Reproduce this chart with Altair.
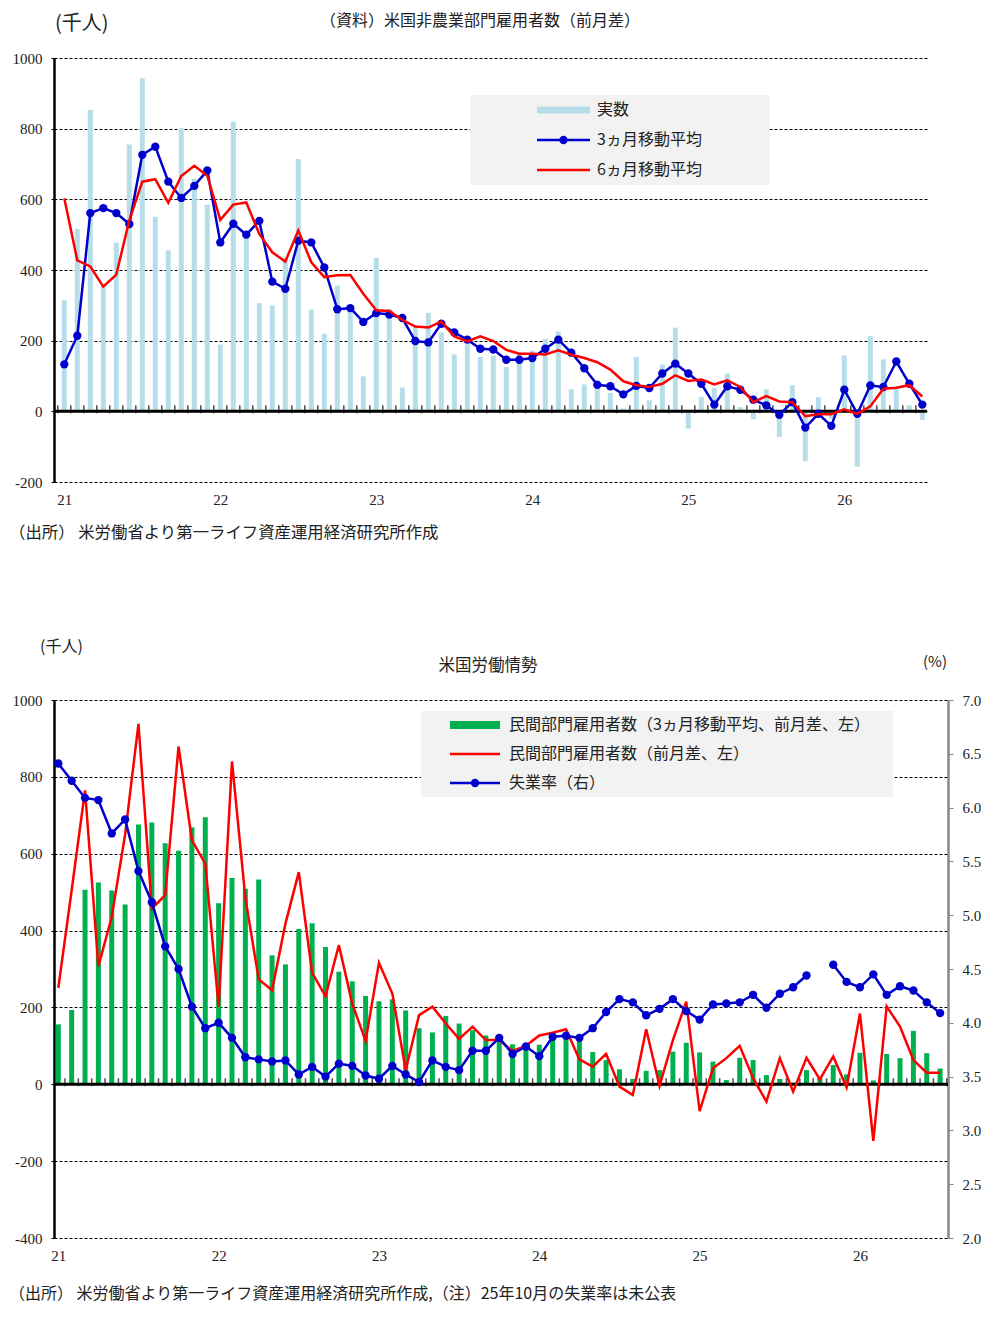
import altair as alt
import pandas as pd

# ---------------- data ----------------
months = list(range(67))
year_ticks = [0, 12, 24, 36, 48, 60]
year_labels = ["21", "22", "23", "24", "25", "26"]

nfp_actual = [314, 516, 853, 356, 478, 755, 943, 551, 456, 801,
              658, 585, 189, 820, 491, 306, 300, 435, 714, 288,
              220, 356, 300, 99, 434, 290, 67, 240, 279, 223,
              161, 212, 154, 158, 125, 163, 172, 205, 226, 62,
              76, 88, 52, 8, 154, 31, 133, 237, -49, 41,
              66, 107, 12, -22, 62, -73, 74, -141, 40, -22,
              158, -157, 213, 147, 64, 17, -24]
nfp_ma3 = [133, 214, 561, 575, 561, 530, 726, 749, 650, 604,
           638, 682, 478, 531, 500, 539, 367, 347, 483, 478,
           407, 289, 292, 253, 278, 274, 264, 199, 195, 248,
           223, 203, 177, 175, 146, 146, 151, 177, 203, 166,
           122, 75, 71, 48, 72, 66, 107, 135, 107, 78,
           19, 71, 61, 33, 17, -10, 26, -46, -7, -41,
           61, -7, 73, 69, 141, 78, 19]
nfp_ma6 = [603, 427, 410, 353, 387, 540, 650, 657, 590, 666,
           695, 667, 542, 585, 591, 502, 450, 424, 512, 422,
           380, 385, 386, 333, 286, 284, 259, 240, 237, 254,
           212, 198, 212, 199, 174, 163, 163, 161, 173, 160,
           151, 139, 118, 85, 74, 69, 78, 102, 86, 90,
           76, 88, 69, 26, 43, 28, 26, -14, -8, -8,
           6, -7, 14, 64, 67, 74, 42]

priv_ma3 = [156, 193, 506, 525, 504, 468, 676, 681, 627, 608,
            669, 695, 471, 537, 509, 533, 336, 312, 404, 419,
            357, 293, 268, 230, 216, 221, 192, 146, 135, 178,
            158, 141, 127, 125, 104, 102, 103, 124, 132, 119,
            84, 63, 39, 14, 35, 37, 85, 108, 83, 59,
            11, 69, 63, 24, 14, 4, 37, 18, 50, 26,
            82, 10, 79, 68, 139, 81, 41]
priv_mom = [251, 505, 765, 307, 436, 650, 938, 457, 492, 879,
            635, 574, 202, 840, 485, 273, 245, 418, 552, 290,
            229, 362, 210, 113, 316, 236, 37, 180, 202, 158,
            118, 150, 115, 115, 87, 100, 127, 134, 143, 65,
            46, 79, -6, -28, 143, -4, 115, 215, -70, 42,
            68, 100, 16, -45, 68, -19, 69, 13, 72, -8,
            184, -147, 203, 150, 63, 30, 30]
unemp = [6.41, 6.25, 6.09, 6.07, 5.76, 5.89, 5.41, 5.12, 4.71, 4.50,
         4.15, 3.95, 4.00, 3.86, 3.68, 3.66, 3.64, 3.65, 3.52, 3.59,
         3.50, 3.62, 3.60, 3.51, 3.48, 3.60, 3.52, 3.45, 3.65, 3.59,
         3.56, 3.74, 3.74, 3.86, 3.71, 3.78, 3.69, 3.87, 3.88, 3.86,
         3.95, 4.10, 4.22, 4.19, 4.07, 4.13, 4.22, 4.11, 4.03, 4.17,
         4.18, 4.19, 4.26, 4.14, 4.27, 4.33, 4.44, None, 4.54, 4.38,
         4.33, 4.45, 4.26, 4.34, 4.30, 4.19, 4.09]

top_ticks_y = [-200, 0, 200, 400, 600, 800, 1000]
bot_ticks_y = [-400, -200, 0, 200, 400, 600, 800, 1000]
rate_ticks = [2.0, 2.5, 3.0, 3.5, 4.0, 4.5, 5.0, 5.5, 6.0, 6.5, 7.0]

top_legend = ["実数", "3ヵ月移動平均", "6ヵ月移動平均"]
bot_legend = ["民間部門雇用者数（3ヵ月移動平均、前月差、左）",
              "民間部門雇用者数（前月差、左）", "失業率（右）"]

# ---------------- style ----------------
JP = "Noto Sans CJK JP"
NUM = "Liberation Serif"
TXT = "#222222"
LB = "#b7dde8"
BLUE = "#0000cc"
RED = "#ff0000"
GREEN = "#00b050"

label_expr = " : ".join(
    f"datum.value == {v} ? '{l}'" for v, l in zip(year_ticks, year_labels)
) + " : ''"

one = pd.DataFrame({"a": [0]})

X_AXIS = alt.Axis(values=year_ticks, labelExpr=label_expr, domain=False, ticks=False,
                  grid=False, labelPadding=10, labelFont=NUM, labelFontSize=15,
                  labelColor=TXT, title=None, orient="bottom")


def y_axis_left(vals):
    return alt.Axis(values=vals, grid=True, gridDash=[3, 2], gridColor="#000000",
                    gridWidth=1, domainColor="#000000", domainWidth=2.5,
                    tickColor="#000000", tickSize=3, labelPadding=9, labelFont=NUM,
                    labelFontSize=15, labelColor=TXT, title=None,
                    labelExpr="'' + datum.value", orient="left")


def txt(x, y, s, size=16, align="left", font=JP):
    return alt.Chart(one).mark_text(align=align, baseline="middle", font=font,
                                    fontSize=size, color=TXT).encode(
        x=alt.value(x), y=alt.value(y), text=alt.value(s))


def rect(x, x2, y, y2, color):
    return alt.Chart(one).mark_rect(color=color).encode(
        x=alt.value(x), x2=alt.value(x2), y=alt.value(y), y2=alt.value(y2))


def hline(x, x2, y, color, w=2.5):
    return alt.Chart(one).mark_rule(color=color, strokeWidth=w).encode(
        x=alt.value(x), x2=alt.value(x2), y=alt.value(y))


def dot(x, y, color):
    return alt.Chart(one).mark_point(filled=True, color=color, size=70, opacity=1).encode(
        x=alt.value(x), y=alt.value(y))


# ---------------- top chart ----------------
TW, TH = 873, 424
xs_top = alt.Scale(domain=[-0.792, 66.36], nice=False, zero=False, padding=0)
ys_top = alt.Scale(domain=[-200, 1000], nice=False, zero=False, padding=0)
YA_TOP = y_axis_left(top_ticks_y)

top_df = pd.DataFrame({"m": months, "actual": nfp_actual, "ma3": nfp_ma3, "ma6": nfp_ma6})
tick_top = pd.DataFrame({"t": [i - 0.5 for i in range(67)]})
tick_top = tick_top[tick_top.t > -0.79]

TX = lambda f: alt.X(f, scale=xs_top, axis=X_AXIS)
TY = lambda f: alt.Y(f, scale=ys_top, axis=YA_TOP)

t_bars = alt.Chart(top_df).mark_bar(size=5, color=LB).encode(x=TX("m:Q"), y=TY("actual:Q"))
t_zero = alt.Chart(one).mark_rule(color="#000000", strokeWidth=3).encode(
    y=alt.Y(datum=0, scale=ys_top, axis=YA_TOP))
t_ticks = alt.Chart(tick_top).mark_tick(orient="vertical", color="#000000", thickness=1.5,
                                        size=8, yOffset=-2).encode(
    x=TX("t:Q"), y=alt.Y(datum=0, scale=ys_top, axis=YA_TOP))
t_ma3 = alt.Chart(top_df).mark_line(
    color=BLUE, strokeWidth=2.5,
    point=alt.OverlayMarkDef(filled=True, fill=BLUE, color=BLUE, size=70)).encode(
    x=TX("m:Q"), y=TY("ma3:Q"))
t_ma6 = alt.Chart(top_df).mark_line(color=RED, strokeWidth=2.5).encode(
    x=TX("m:Q"), y=TY("ma6:Q"))

anchor = alt.Chart(one).mark_rule(color="white", strokeWidth=1).encode(
    x=alt.value(-45.5), y=alt.value(-49.5), y2=alt.value(-45))

top_deco = [
    anchor,
    txt(1, -34, "(千人)", size=20),
    txt(426, -37, "（資料）米国非農業部門雇用者数（前月差）", size=16, align="center"),
    txt(-45, 475, "（出所） 米労働省より第一ライフ資産運用経済研究所作成", size=16.4),
    rect(416, 716, 37, 127, "#f2f2f2"),
    rect(483, 536, 48.5, 55.5, LB),
    hline(483, 536, 82, BLUE),
    dot(509.5, 82, BLUE),
    hline(483, 536, 112, RED),
    txt(543, 52, top_legend[0]),
    txt(543, 82, top_legend[1]),
    txt(543, 112, top_legend[2]),
]

top = alt.layer(t_bars, t_zero, t_ticks, t_ma3, t_ma6, *top_deco).properties(width=TW, height=TH)

# ---------------- bottom chart ----------------
BW, BH = 894, 538
xs_bot = alt.Scale(domain=[-0.322, 66.59], nice=False, zero=False, padding=0)
ys_bot = alt.Scale(domain=[-400, 1000], nice=False, zero=False, padding=0)
ys_rate = alt.Scale(domain=[2.0, 7.0], nice=False, zero=False, padding=0)
YA_BOT = y_axis_left(bot_ticks_y)

seg = []
s = 0
for v in unemp:
    if v is None:
        s += 1
    seg.append(s)
bot_df = pd.DataFrame({"m": months, "ma3": priv_ma3, "mom": priv_mom, "rate": unemp, "seg": seg})
rate_df = bot_df[bot_df["rate"].notna()]
tick_bot = pd.DataFrame({"t": [i - 0.5 for i in range(68)]})
tick_bot = tick_bot[(tick_bot.t > -0.32) & (tick_bot.t < 66.59)]

BX = lambda f: alt.X(f, scale=xs_bot, axis=X_AXIS)
BY = lambda f: alt.Y(f, scale=ys_bot, axis=YA_BOT)

b_bars = alt.Chart(bot_df).mark_bar(size=5, color=GREEN).encode(x=BX("m:Q"), y=BY("ma3:Q"))
b_zero = alt.Chart(one).mark_rule(color="#000000", strokeWidth=3).encode(
    y=alt.Y(datum=0, scale=ys_bot, axis=YA_BOT))
b_ticks = alt.Chart(tick_bot).mark_tick(orient="vertical", color="#000000", thickness=1.5,
                                        size=8, yOffset=-2).encode(
    x=BX("t:Q"), y=alt.Y(datum=0, scale=ys_bot, axis=YA_BOT))
b_mom = alt.Chart(bot_df).mark_line(color=RED, strokeWidth=2.5).encode(
    x=BX("m:Q"), y=BY("mom:Q"))

bottom_anchor = alt.Chart(one).mark_rule(color="white", strokeWidth=1).encode(
    x=alt.value(-40), y=alt.value(606), y2=alt.value(612))

bot_deco = [
    bottom_anchor,
    txt(-14, -53, "(千人)", size=16),
    txt(434, -34, "米国労働情勢", size=16.5, align="center"),
    txt(881, -38, "(%)", size=15, align="center"),
    txt(-45, 594, "（出所） 米労働省より第一ライフ資産運用経済研究所作成,（注）25年10月の失業率は未公表", size=16),
    rect(367, 839, 11, 97, "#f2f2f2"),
    rect(396, 446, 21, 29, GREEN),
    hline(396, 446, 54, RED),
    hline(396, 446, 83, BLUE),
    dot(421, 83, BLUE),
    txt(455, 25, bot_legend[0]),
    txt(455, 54, bot_legend[1]),
    txt(455, 83, bot_legend[2]),
]

left_layer = alt.layer(b_bars, b_zero, b_ticks, b_mom, *bot_deco)

RATE_AXIS = alt.Axis(orient="right", values=rate_ticks, format=".1f", domainColor="#888888",
                     domainWidth=2.5, tickColor="#888888", tickSize=5, labelPadding=9,
                     grid=False, labelFont=NUM, labelFontSize=15, labelColor=TXT, title=None)
b_rate_line = alt.Chart(rate_df).mark_line(color=BLUE, strokeWidth=2.5).encode(
    x=BX("m:Q"),
    y=alt.Y("rate:Q", scale=ys_rate, axis=RATE_AXIS),
    detail="seg:N")
b_rate_pts = alt.Chart(rate_df).mark_point(filled=True, color=BLUE, size=70, opacity=1).encode(
    x=BX("m:Q"),
    y=alt.Y("rate:Q", scale=ys_rate, axis=RATE_AXIS))
right_layer = alt.layer(b_rate_line, b_rate_pts)

bottom = alt.layer(left_layer, right_layer).resolve_scale(y="independent").properties(
    width=BW, height=BH)

chart = alt.vconcat(top, bottom, spacing=218, bounds="flush", padding=0).configure_view(
    stroke=None)

chart.save("out.html", embed_options={"renderer": "svg", "actions": False})
